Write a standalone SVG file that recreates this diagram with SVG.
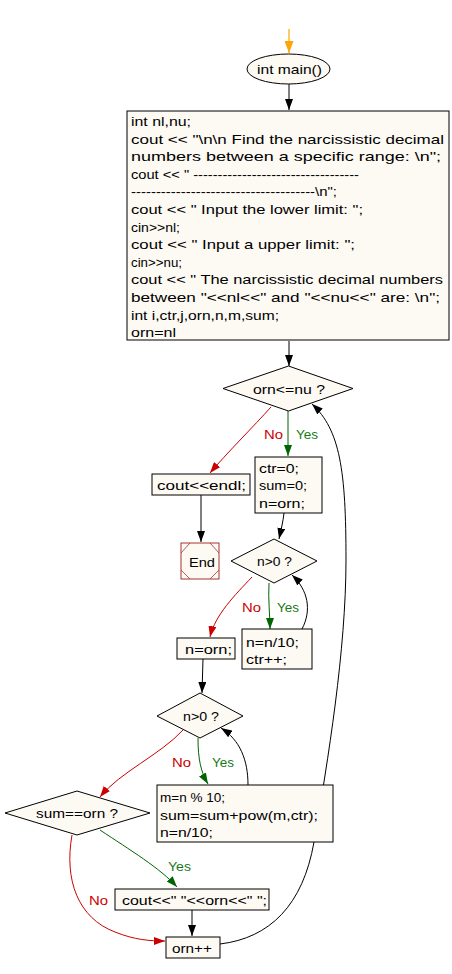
<svg xmlns="http://www.w3.org/2000/svg" width="452" height="974" viewBox="0 0 452 974">
<style>
.n{fill:#fdf9f3;stroke:#000;stroke-width:1}
text{font-family:"Liberation Sans",Arial,sans-serif;font-size:13.5px;fill:#000}
.e{fill:none;stroke:#000;stroke-width:1}
.r{stroke:#cc0000}
.g{stroke:#006400}
.red{fill:#cc0000}
.grn{fill:#1a7a1a}
</style>
<defs>
<marker id="ab" markerUnits="userSpaceOnUse" markerWidth="12" markerHeight="8" refX="11" refY="4" orient="auto"><path d="M0,0 L11,4 L0,8 z" fill="#000"/></marker>
<marker id="ar" markerUnits="userSpaceOnUse" markerWidth="12" markerHeight="8" refX="11" refY="4" orient="auto"><path d="M0,0 L11,4 L0,8 z" fill="#cc0000"/></marker>
<marker id="ag" markerUnits="userSpaceOnUse" markerWidth="12" markerHeight="8" refX="11" refY="4" orient="auto"><path d="M0,0 L11,4 L0,8 z" fill="#006400"/></marker>
<marker id="ao" markerUnits="userSpaceOnUse" markerWidth="13" markerHeight="9" refX="12" refY="4.5" orient="auto"><path d="M0,0 L12,4.5 L0,9 z" fill="#ffa500"/></marker>
</defs>
<g id="connectors">
<path d="M289,29 L289,53" fill="none" stroke="#ffa500" stroke-width="1.2" marker-end="url(#ao)"/>
<path class="e" d="M289,84 L289,110" marker-end="url(#ab)"/>
<path class="e" d="M289,341 L289,366" marker-end="url(#ab)"/>
<path class="e r" d="M271,407 C255,425 225,455 210,473" marker-end="url(#ar)"/>
<path class="e g" d="M288,411 L288,456" marker-end="url(#ag)"/>
<path class="e" d="M201,495 L201,542" marker-end="url(#ab)"/>
<path class="e" d="M284,513 C283,522 281,530 279,539" marker-end="url(#ab)"/>
<path class="e r" d="M252,577 C235,595 215,615 210,637" marker-end="url(#ar)"/>
<path class="e g" d="M269,583 C268,600 270,615 270,629" marker-end="url(#ag)"/>
<path class="e" d="M302,629 C312,610 308,590 292,575" marker-end="url(#ab)"/>
<path class="e" d="M203,659 L202,693" marker-end="url(#ab)"/>
<path class="e r" d="M183,730 C160,755 120,772 100,797" marker-end="url(#ar)"/>
<path class="e g" d="M198,738 C198,760 201,772 208,784" marker-end="url(#ag)"/>
<path class="e" d="M248,785 C248,760 240,740 221,728" marker-end="url(#ab)"/>
<path class="e g" d="M100,830 C130,850 160,868 177,887" marker-end="url(#ag)"/>
<path class="e" d="M192,910 L192,936" marker-end="url(#ab)"/>
<path class="e r" d="M72,835 C64,880 78,918 115,932 C135,940 150,941 165,941" marker-end="url(#ar)"/>
<path class="e" d="M220,944 C270,938 303,905 314,842 C328,760 346,650 346,560 C346,470 340,430 312,404" marker-end="url(#ab)"/>
</g>
<g id="start"><ellipse class="n" cx="288.5" cy="69" rx="41.5" ry="15"/><text x="257" y="74" textLength="65" lengthAdjust="spacingAndGlyphs">int main()</text></g>
<g id="init">
<rect class="n" x="127" y="111" width="322" height="229"/>
<text x="131" y="126" textLength="60" lengthAdjust="spacingAndGlyphs">int nl,nu;</text>
<text x="131" y="143.6" textLength="313" lengthAdjust="spacingAndGlyphs">cout &lt;&lt; "\n\n Find the narcissistic decimal</text>
<text x="131" y="161.2" textLength="310" lengthAdjust="spacingAndGlyphs">numbers between a specific range: \n";</text>
<text x="131" y="178.8" textLength="228" lengthAdjust="spacingAndGlyphs">cout &lt;&lt; " ----------------------------------</text>
<text x="131" y="196.4" textLength="206" lengthAdjust="spacingAndGlyphs">-------------------------------------\n";</text>
<text x="131" y="214" textLength="232" lengthAdjust="spacingAndGlyphs">cout &lt;&lt; " Input the lower limit: ";</text>
<text x="131" y="231.6" textLength="49" lengthAdjust="spacingAndGlyphs">cin&gt;&gt;nl;</text>
<text x="131" y="249.2" textLength="224" lengthAdjust="spacingAndGlyphs">cout &lt;&lt; " Input a upper limit: ";</text>
<text x="131" y="266.8" textLength="51" lengthAdjust="spacingAndGlyphs">cin&gt;&gt;nu;</text>
<text x="131" y="284.4" textLength="312" lengthAdjust="spacingAndGlyphs">cout &lt;&lt; " The narcissistic decimal numbers</text>
<text x="131" y="302" textLength="309" lengthAdjust="spacingAndGlyphs">between "&lt;&lt;nl&lt;&lt;" and "&lt;&lt;nu&lt;&lt;" are: \n";</text>
<text x="131" y="319.6" textLength="148" lengthAdjust="spacingAndGlyphs">int i,ctr,j,orn,n,m,sum;</text>
<text x="131" y="337.2" textLength="45" lengthAdjust="spacingAndGlyphs">orn=nl</text>
</g>
<g id="cond1"><polygon class="n" points="223,388.5 288.5,366 353,388.5 288.5,411"/><text x="253" y="393.5" textLength="72" lengthAdjust="spacingAndGlyphs">orn&lt;=nu ?</text></g>
<g id="lbl1"><text class="red" x="264" y="439" textLength="19" lengthAdjust="spacingAndGlyphs">No</text><text class="grn" x="296" y="439" textLength="22" lengthAdjust="spacingAndGlyphs">Yes</text></g>
<g id="reset"><rect class="n" x="255" y="457" width="67" height="56"/>
<text x="259" y="473" textLength="40" lengthAdjust="spacingAndGlyphs">ctr=0;</text>
<text x="259" y="490" textLength="48" lengthAdjust="spacingAndGlyphs">sum=0;</text>
<text x="259" y="507.5" textLength="46" lengthAdjust="spacingAndGlyphs">n=orn;</text></g>
<g id="endl"><rect class="n" x="152" y="474" width="98" height="21"/><text x="157" y="490" textLength="89" lengthAdjust="spacingAndGlyphs">cout&lt;&lt;endl;</text></g>
<g id="end"><rect x="181" y="543" width="38" height="36" fill="#fdf9f3" stroke="#a83232" stroke-width="1"/>
<path d="M190,543 L181,553 M181,570 L190,579 M210,543 L219,553 M219,570 L210,579" stroke="#a83232" stroke-width="0.8" fill="none"/>
<text x="189" y="566.5" textLength="26" lengthAdjust="spacingAndGlyphs">End</text></g>
<g id="cond2"><polygon class="n" points="231,561 274,539 317,561 274,583"/><text x="257" y="566" textLength="35" lengthAdjust="spacingAndGlyphs">n&gt;0 ?</text></g>
<g id="lbl2"><text class="red" x="242" y="612" textLength="19" lengthAdjust="spacingAndGlyphs">No</text><text class="grn" x="277" y="612" textLength="22" lengthAdjust="spacingAndGlyphs">Yes</text></g>
<g id="count"><rect class="n" x="242" y="629" width="70" height="40"/>
<text x="246" y="646.5" textLength="53" lengthAdjust="spacingAndGlyphs">n=n/10;</text>
<text x="246" y="663.5" textLength="41" lengthAdjust="spacingAndGlyphs">ctr++;</text></g>
<g id="norn"><rect class="n" x="177" y="638" width="58" height="21"/><text x="185" y="654" textLength="47" lengthAdjust="spacingAndGlyphs">n=orn;</text></g>
<g id="cond3"><polygon class="n" points="157,716 200,693 243,716 200,738"/><text x="183" y="721" textLength="36" lengthAdjust="spacingAndGlyphs">n&gt;0 ?</text></g>
<g id="lbl3"><text class="red" x="172" y="767" textLength="19" lengthAdjust="spacingAndGlyphs">No</text><text class="grn" x="212" y="767" textLength="22" lengthAdjust="spacingAndGlyphs">Yes</text></g>
<g id="sumpow"><rect class="n" x="157" y="785" width="176" height="57"/>
<text x="160" y="802" font-size="12.8">m=n % 10;</text>
<text x="160" y="820" textLength="158" lengthAdjust="spacingAndGlyphs">sum=sum+pow(m,ctr);</text>
<text x="160" y="837" textLength="53" lengthAdjust="spacingAndGlyphs">n=n/10;</text></g>
<g id="cond4"><polygon class="n" points="5,813 77,791 150,813 77,835"/><text x="36" y="818" textLength="82" lengthAdjust="spacingAndGlyphs">sum==orn ?</text></g>
<g id="lbl4"><text class="grn" x="168" y="871" textLength="23" lengthAdjust="spacingAndGlyphs">Yes</text><text class="red" x="89" y="905" textLength="19" lengthAdjust="spacingAndGlyphs">No</text></g>
<g id="print"><rect class="n" x="115" y="889" width="154" height="21"/><text x="122" y="905" textLength="145" lengthAdjust="spacingAndGlyphs">cout&lt;&lt;" "&lt;&lt;orn&lt;&lt;" ";</text></g>
<g id="inc"><rect class="n" x="166" y="937" width="54" height="21"/><text x="172" y="953" textLength="40" lengthAdjust="spacingAndGlyphs">orn++</text></g>
</svg>
